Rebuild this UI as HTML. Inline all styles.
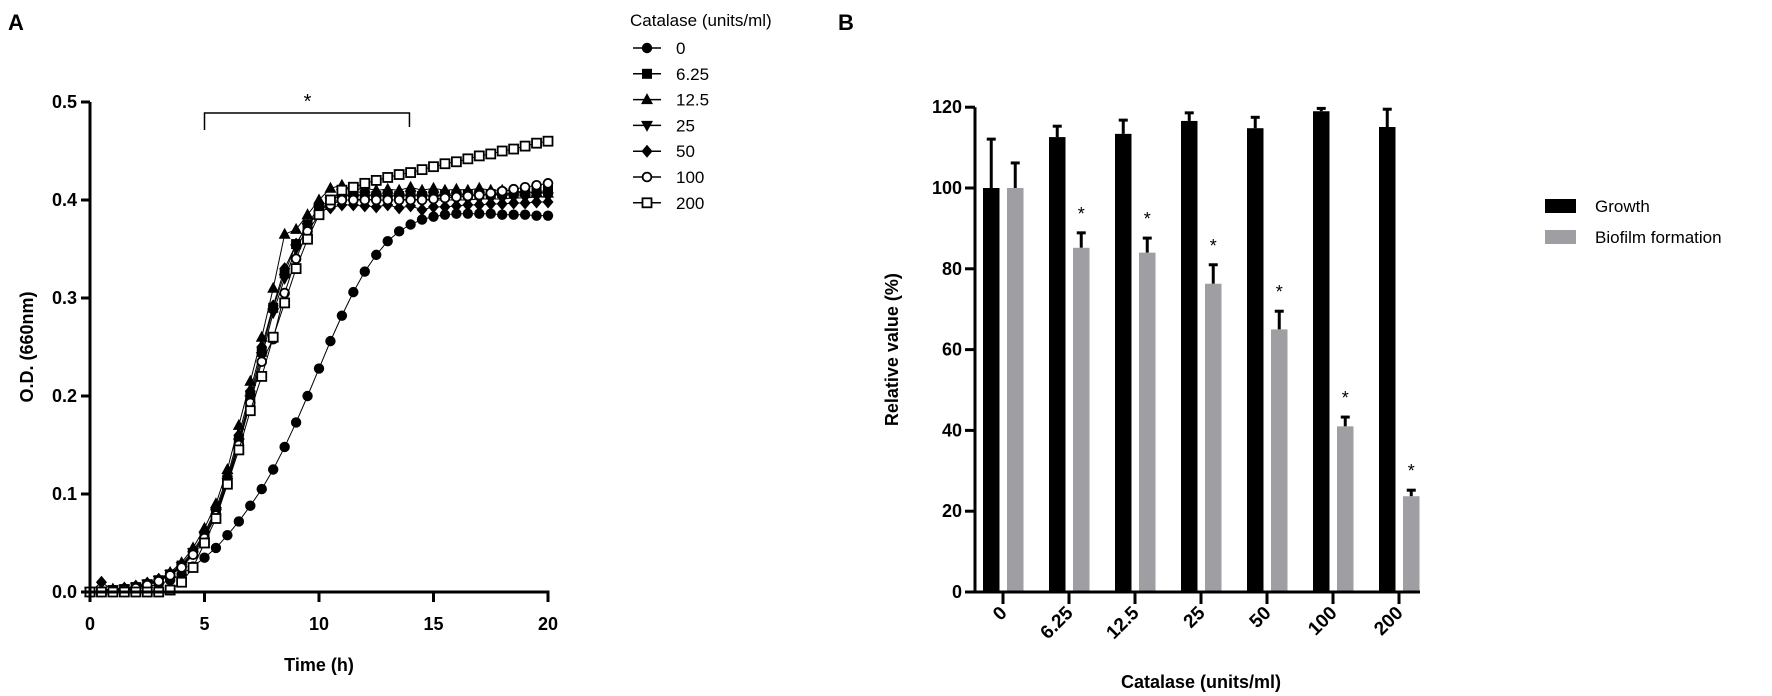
<!DOCTYPE html>
<html><head><meta charset="utf-8">
<style>
html,body{margin:0;padding:0;background:#fff;}
svg{display:block;font-family:"Liberation Sans",sans-serif;}
</style></head>
<body>
<svg id="fig" width="1772" height="696" viewBox="0 0 1772 696" xmlns="http://www.w3.org/2000/svg">
<text x="8" y="30" font-size="22" font-weight="bold">A</text>
<text x="838" y="30" font-size="22" font-weight="bold">B</text>
<g id="pa"></g>
<g id="pb"></g>
</svg>
<script>
// ---------- Panel A data ----------
const times = [];
for (let i = 0; i <= 40; i++) times.push(i * 0.5);
const seriesNames = ["0","6.25","12.5","25","50","100","200"];
const s0   = [0,0,.001,.002,.003,.005,.008,.012,.018,.026,.035,.045,.058,.072,.088,.105,.125,.148,.173,.2,.228,.256,.282,.306,.327,.344,.358,.368,.375,.38,.383,.385,.386,.386,.386,.386,.385,.385,.385,.384,.384];
const s625 = [0,0,.002,.003,.005,.008,.012,.018,.027,.04,.058,.082,.115,.155,.2,.245,.29,.325,.355,.375,.393,.4,.405,.405,.405,.404,.405,.404,.405,.404,.405,.405,.405,.406,.406,.406,.407,.407,.408,.408,.41];
const s125 = [0,.002,.003,.004,.006,.009,.013,.02,.03,.045,.065,.09,.125,.17,.215,.26,.31,.365,.37,.385,.4,.412,.415,.41,.412,.41,.411,.41,.413,.41,.412,.41,.411,.41,.412,.41,.41,.409,.408,.408,.407];
const s25  = [0,.001,.002,.003,.005,.008,.012,.018,.026,.04,.057,.08,.112,.152,.196,.24,.285,.32,.35,.372,.39,.398,.4,.4,.401,.4,.4,.4,.401,.4,.4,.4,.4,.4,.401,.401,.401,.402,.402,.403,.403];
const s50  = [0,.01,.002,.004,.006,.009,.013,.019,.028,.042,.06,.085,.118,.16,.205,.25,.292,.33,.355,.375,.388,.392,.395,.395,.394,.393,.395,.392,.394,.39,.393,.393,.394,.395,.395,.396,.396,.397,.397,.398,.398];
const s100 = [0,0,.001,.002,.004,.007,.011,.017,.025,.038,.055,.078,.11,.15,.193,.235,.258,.305,.34,.368,.385,.395,.4,.4,.4,.4,.4,.4,.4,.4,.401,.402,.403,.404,.405,.407,.409,.411,.413,.415,.417];
const s200 = [0,0,0,0,0,0,0,.002,.01,.025,.05,.075,.11,.145,.185,.22,.26,.295,.33,.36,.385,.4,.41,.413,.417,.42,.423,.426,.428,.431,.434,.437,.439,.442,.445,.447,.450,.452,.455,.458,.46];
const allSeries = [s0,s625,s125,s25,s50,s100,s200];
const markers = ["circle","square","triangle","invtriangle","diamond","ocircle","osquare"];
const yTicksA = [0,0.1,0.2,0.3,0.4,0.5];
const xTicksA = [0,5,10,15,20];

// ---------- Panel B data ----------
const cats = ["0","6.25","12.5","25","50","100","200"];
const growth = [100,112.6,113.4,116.6,114.8,119,115.1];
const growthErr = [12.1,2.7,3.4,2.0,2.7,0.7,4.4];
const biofilm = [100,85.2,84,76.3,65,41,23.7];
const biofilmErr = [6.2,3.7,3.6,4.7,4.5,2.3,1.5];
const biofilmSig = [false,true,true,true,true,true,true];
const yTicksB = [0,20,40,60,80,100,120];

const NS = "http://www.w3.org/2000/svg";
function mk(parent, tag, attrs, text){
  const e = document.createElementNS(NS, tag);
  for (const k in attrs) e.setAttribute(k, attrs[k]);
  if (text !== undefined) e.textContent = text;
  parent.appendChild(e);
  return e;
}

// ---------- Panel A ----------
const pa = document.getElementById("pa");
const ax = t => 90 + t * 22.9;
const ay = v => 592 - v * 980;
function drawMarker(g, type, x, y){
  let e;
  const r = 5.2;
  if (type === "circle") e = mk(g,"circle",{cx:x,cy:y,r:r,fill:"#000"});
  else if (type === "ocircle") e = mk(g,"circle",{cx:x,cy:y,r:r-0.8,fill:"#fff",stroke:"#000","stroke-width":1.8});
  else if (type === "square") e = mk(g,"rect",{x:x-5,y:y-5,width:10,height:10,fill:"#000"});
  else if (type === "osquare") e = mk(g,"rect",{x:x-4.5,y:y-4.5,width:9,height:9,fill:"#fff",stroke:"#000","stroke-width":1.8});
  else if (type === "triangle") e = mk(g,"polygon",{points:`${x},${y-6.5} ${x+6},${y+4.5} ${x-6},${y+4.5}`,fill:"#000"});
  else if (type === "invtriangle") e = mk(g,"polygon",{points:`${x},${y+6.5} ${x+6},${y-4.5} ${x-6},${y-4.5}`,fill:"#000"});
  else e = mk(g,"polygon",{points:`${x},${y-6.5} ${x+5.5},${y} ${x},${y+6.5} ${x-5.5},${y}`,fill:"#000"});
  return e;
}
for (let si = 0; si < allSeries.length; si++){
  const g = mk(pa,"g",{});
  
  
  const pts = allSeries[si].map((v,i)=>ax(times[i])+","+ay(v)).join(" ");
  const ln = mk(g,"polyline",{points:pts,fill:"none",stroke:"#000","stroke-width":1});
  
  
  allSeries[si].forEach((v,i)=>{
    const m = drawMarker(g, markers[si], ax(times[i]), ay(v));
    
    
  });
}
// axes A
const axA = mk(pa,"g",{});


mk(axA,"line",{x1:90,y1:ay(0.5),x2:90,y2:593.5,stroke:"#000","stroke-width":3});
mk(axA,"line",{x1:88.5,y1:592,x2:ax(20)+1.5,y2:592,stroke:"#000","stroke-width":3});
yTicksA.forEach(v=>{
  mk(axA,"line",{x1:81,y1:ay(v),x2:90,y2:ay(v),stroke:"#000","stroke-width":3});
  const t = mk(axA,"text",{x:77,y:ay(v)+6,"text-anchor":"end","font-size":18,"font-weight":"bold"},v.toFixed(1));
  
  
});
xTicksA.forEach(v=>{
  mk(axA,"line",{x1:ax(v),y1:592,x2:ax(v),y2:602,stroke:"#000","stroke-width":3});
  const t = mk(axA,"text",{x:ax(v),y:630,"text-anchor":"middle","font-size":18,"font-weight":"bold"},String(v));
  
  
});
const xtA = mk(axA,"text",{x:ax(10),y:671,"text-anchor":"middle","font-size":18,"font-weight":"bold"},"Time (h)");


const ytA = mk(axA,"text",{x:0,y:0,transform:`translate(33,${ay(0.25)}) rotate(-90)`,"text-anchor":"middle","font-size":18,"font-weight":"bold"},"O.D. (660nm)");


// significance bracket
const br = mk(pa,"g",{});


mk(br,"polyline",{points:`${ax(5)},130 ${ax(5)},113 ${ax(13.95)},113 ${ax(13.95)},127`,fill:"none",stroke:"#000","stroke-width":1.5});
mk(br,"text",{x:ax(9.5),y:108,"text-anchor":"middle","font-size":20},"*");
// legend A
const lg = mk(pa,"g",{});


mk(lg,"text",{x:630,y:26,"font-size":17},"Catalase (units/ml)");
seriesNames.forEach((n,i)=>{
  const y = 48 + i*25.8;
  const e = mk(lg,"g",{});
  
  
  mk(e,"line",{x1:633,y1:y,x2:661,y2:y,stroke:"#000","stroke-width":1.5});
  drawMarker(e, markers[i], 647, y);
  mk(e,"text",{x:676,y:y+6,"font-size":17},n);
});

// ---------- Panel B ----------
const pb = document.getElementById("pb");
const by = v => 592 - v * 4.04;
const bx = i => 1003 + i * 66;
const bw = 16.5;
cats.forEach((c,i)=>{
  const cx = bx(i);
  const gx = cx - 20;
  mk(pb,"line",{x1:gx+bw/2,y1:by(growth[i]),x2:gx+bw/2,y2:by(growth[i]+growthErr[i]),stroke:"#000","stroke-width":3});
  mk(pb,"line",{x1:gx+bw/2-4.5,y1:by(growth[i]+growthErr[i]),x2:gx+bw/2+4.5,y2:by(growth[i]+growthErr[i]),stroke:"#000","stroke-width":3});
  const r1 = mk(pb,"rect",{x:gx,y:by(growth[i]),width:bw,height:by(0)-by(growth[i]),fill:"#000"});
  
  
  const fx = cx + 4;
  mk(pb,"line",{x1:fx+bw/2,y1:by(biofilm[i]),x2:fx+bw/2,y2:by(biofilm[i]+biofilmErr[i]),stroke:"#000","stroke-width":3});
  mk(pb,"line",{x1:fx+bw/2-4.5,y1:by(biofilm[i]+biofilmErr[i]),x2:fx+bw/2+4.5,y2:by(biofilm[i]+biofilmErr[i]),stroke:"#000","stroke-width":3});
  const r2 = mk(pb,"rect",{x:fx,y:by(biofilm[i]),width:bw,height:by(0)-by(biofilm[i]),fill:"#9e9ea3"});
  
  
  if (biofilmSig[i]){
    const s = mk(pb,"text",{x:fx+bw/2,y:by(biofilm[i]+biofilmErr[i])-13,"text-anchor":"middle","font-size":18},"*");
    
    
  }
  mk(pb,"line",{x1:cx,y1:592,x2:cx,y2:604,stroke:"#000","stroke-width":3});
  const t = mk(pb,"text",{x:0,y:0,transform:`translate(${cx+5},${614}) rotate(-45)`,"text-anchor":"end","font-size":19,"font-weight":"bold"},c);
  
  
});
mk(pb,"line",{x1:975,y1:by(120),x2:975,y2:593.5,stroke:"#000","stroke-width":3});
mk(pb,"line",{x1:973.5,y1:592,x2:1420,y2:592,stroke:"#000","stroke-width":3});
yTicksB.forEach(v=>{
  mk(pb,"line",{x1:965,y1:by(v),x2:975,y2:by(v),stroke:"#000","stroke-width":3});
  const t = mk(pb,"text",{x:962,y:by(v)+6,"text-anchor":"end","font-size":18,"font-weight":"bold"},String(v));
  
  
});
const ytB = mk(pb,"text",{x:0,y:0,transform:`translate(898,${by(60)}) rotate(-90)`,"text-anchor":"middle","font-size":18,"font-weight":"bold"},"Relative value (%)");


const xtB = mk(pb,"text",{x:1201,y:688,"text-anchor":"middle","font-size":18,"font-weight":"bold"},"Catalase (units/ml)");


// legend B
const lb = mk(pb,"g",{});


mk(lb,"rect",{x:1545,y:199,width:31,height:14,fill:"#000"});
mk(lb,"text",{x:1595,y:212,"font-size":17},"Growth");
mk(lb,"rect",{x:1545,y:230,width:31,height:14,fill:"#9e9ea3"});
mk(lb,"text",{x:1595,y:243,"font-size":17},"Biofilm formation");
</script>
</body></html>
